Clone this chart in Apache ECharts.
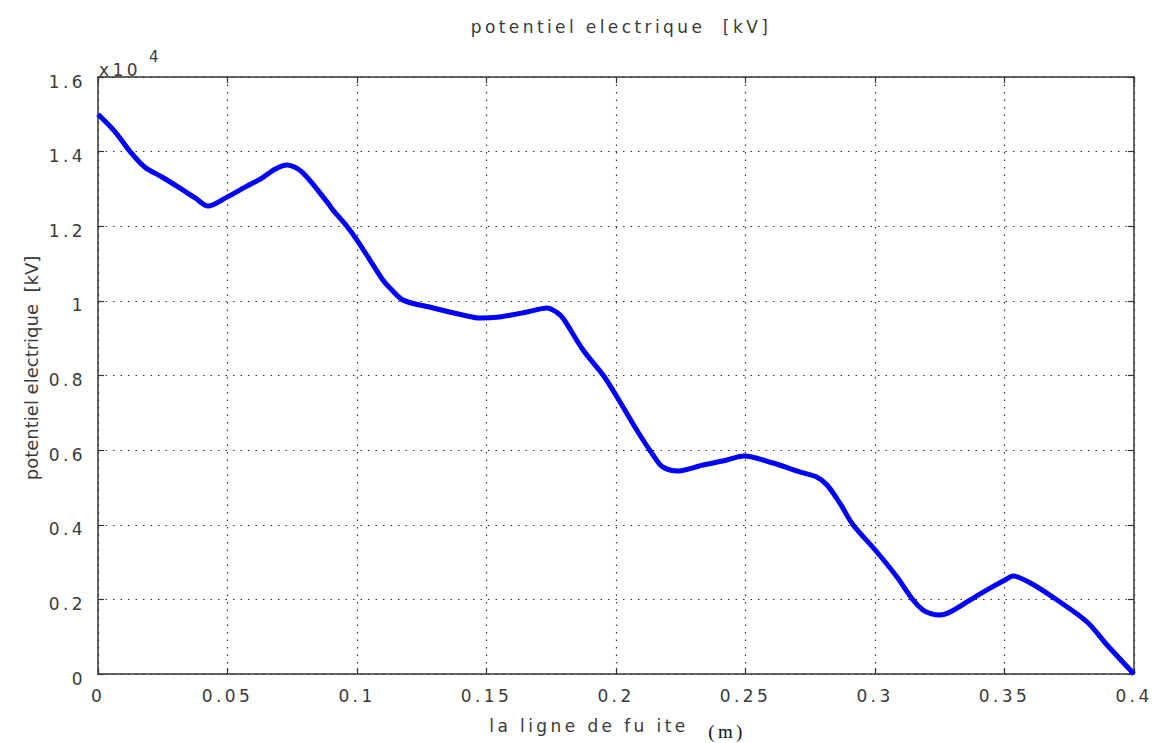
<!DOCTYPE html>
<html>
<head>
<meta charset="utf-8">
<script src="https://cdn.jsdelivr.net/npm/echarts@6/dist/echarts.min.js"></script>
<style>
  html, body { margin: 0; padding: 0; background: #fff; }
  #chart { width: 1160px; height: 743px; }
  #chart text { letter-spacing: 3.4px; }
  #chart text[style*="18px"] { letter-spacing: 0; }
</style>
</head>
<body>
<div id="chart"></div>
<script>
// ---- data ----
const xValues = [0, 0.0066, 0.0124, 0.018, 0.0247, 0.031, 0.0375, 0.0425, 0.0498, 0.0568,
  0.0633, 0.0683, 0.073, 0.0788, 0.0888, 0.0907, 0.0961, 0.1, 0.105, 0.11,
  0.1127, 0.1178, 0.1294, 0.1425, 0.1475, 0.155, 0.1656, 0.1734, 0.177, 0.1795,
  0.1873, 0.195, 0.2004, 0.208, 0.2143, 0.218, 0.224, 0.2336, 0.2428, 0.2494,
  0.2606, 0.271, 0.2775, 0.2815, 0.2865, 0.2915, 0.3, 0.3085, 0.3147, 0.3185,
  0.3215, 0.325, 0.329, 0.3367, 0.3444, 0.3502, 0.3533, 0.36, 0.3703, 0.3819,
  0.3896, 0.4];
const potentialValues = [15000, 14530, 14000, 13590, 13320, 13050, 12760, 12540, 12780, 13050,
  13290, 13530, 13640, 13450, 12620, 12435, 12000, 11630, 11095, 10560,
  10345, 10020, 9810, 9595, 9540, 9570, 9700, 9810, 9700, 9540,
  8683, 8013, 7424, 6540, 5870, 5550, 5440, 5600, 5735, 5840,
  5655, 5415, 5280, 5065, 4570, 4000, 3330, 2600, 1983, 1715,
  1620, 1580, 1660, 1983, 2300, 2520, 2626, 2440, 1983, 1394,
  777, 0];
const xTickLabels = ['0', '0.05', '0.1', '0.15', '0.2', '0.25', '0.3', '0.35', '0.4'];
const yTickLabels = ['0', '0.2', '0.4', '0.6', '0.8', '1', '1.2', '1.4', '1.6'];
const titleText = 'potentiel electrique  [kV]';
const xAxisName = 'la ligne de fu ite';
const xAxisUnit = '(m)';
const yAxisName = 'potentiel electrique  [kV]';
const yScaleText = 'x10';
const yScaleExp = '4';

const seriesData = xValues.map((x, i) => [x, potentialValues[i]]);

const FONT = 'DejaVu Sans';
const TXT = '#3a3a3a';
const AX = '#333';

const chart = echarts.init(document.getElementById('chart'), null, { renderer: 'svg' });

const xBase = {
  type: 'value', min: 0, max: 0.4, interval: 0.05,
  axisLine: { show: true, onZero: false, lineStyle: { color: AX, width: 1.5 } },
  axisTick: { show: true, inside: true, length: 6, lineStyle: { color: AX, width: 1.2 } },
};
const yBase = {
  type: 'value', min: 0, max: 16000, interval: 2000,
  axisLine: { show: true, onZero: false, lineStyle: { color: AX, width: 1.5 } },
  axisTick: { show: true, inside: true, length: 6, lineStyle: { color: AX, width: 1.2 } },
};

chart.setOption({
  animation: false,
  backgroundColor: '#fff',
  grid: { left: 98, top: 77, right: 26, bottom: 69 },
  xAxis: [
    Object.assign({}, xBase, {
      position: 'bottom',
      axisLabel: {
        show: true, margin: 13, color: TXT, fontFamily: FONT, fontSize: 17,
        formatter: (v) => xTickLabels[Math.round(v / 0.05)]
      },
      splitLine: { show: true, lineStyle: { color: '#333', width: 1.2, type: [1.5, 6] } }
    }),
    Object.assign({}, xBase, {
      position: 'top',
      axisLabel: { show: false },
      splitLine: { show: false }
    })
  ],
  yAxis: [
    Object.assign({}, yBase, {
      position: 'left',
      axisLabel: {
        show: true, margin: 12, color: TXT, fontFamily: FONT, fontSize: 17,
        verticalAlign: 'top', lineHeight: 9,
        formatter: (v) => yTickLabels[Math.round(v / 2000)]
      },
      splitLine: { show: true, lineStyle: { color: '#333', width: 1.2, type: [1.5, 6] } }
    }),
    Object.assign({}, yBase, {
      position: 'right',
      axisLabel: { show: false },
      splitLine: { show: false }
    })
  ],
  graphic: [
    { type: 'text', x: 621, y: 27, style: { text: titleText, fill: TXT, font: '17px ' + FONT, textAlign: 'center', textVerticalAlign: 'middle' } },
    { type: 'text', x: 589, y: 726, style: { text: xAxisName, fill: TXT, font: '17px ' + FONT, textAlign: 'center', textVerticalAlign: 'middle' } },
    { type: 'text', x: 727, y: 731, style: { text: xAxisUnit, fill: '#111', font: '19px Liberation Serif', textAlign: 'center', textVerticalAlign: 'middle' } },
    { type: 'text', x: 31, y: 368, rotation: Math.PI / 2, style: { text: yAxisName, fill: TXT, font: '18px ' + FONT, textAlign: 'center', textVerticalAlign: 'middle' } },
    { type: 'text', x: 99, y: 70, style: { text: yScaleText, fill: TXT, font: '17px ' + FONT, textAlign: 'left', textVerticalAlign: 'middle' } },
    { type: 'text', x: 149, y: 57, style: { text: yScaleExp, fill: TXT, font: '15px ' + FONT, textAlign: 'left', textVerticalAlign: 'middle' } }
  ],
  series: [{
    type: 'line',
    xAxisIndex: 0, yAxisIndex: 0,
    data: seriesData,
    showSymbol: false,
    smooth: 0.3,
    lineStyle: { color: '#0000ff', width: 5 },
    itemStyle: { color: '#0000ff' }
  }]
});
</script>
</body>
</html>
